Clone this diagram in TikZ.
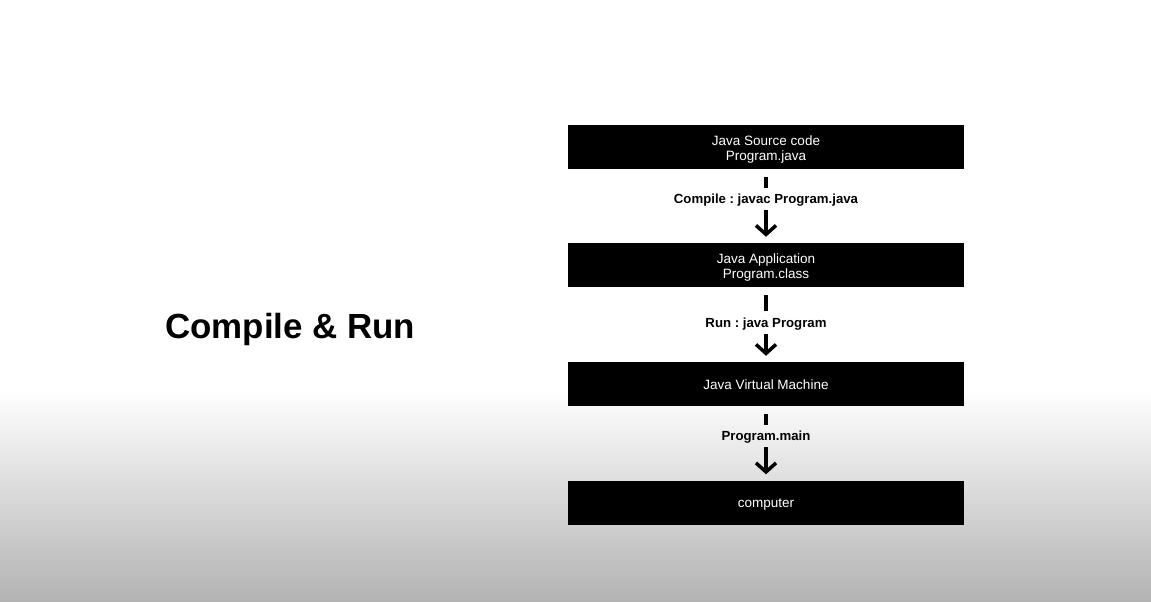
\documentclass[tikz,border=0pt]{standalone}
\usepackage{fontspec}
\setmainfont{Liberation Sans}
\usetikzlibrary{positioning,arrows.meta}
\frenchspacing

\begin{document}
\begin{tikzpicture}[x=1pt,y=-1pt,
    stage/.style={fill=black,text=white,minimum width=396pt,minimum height=44pt,
      inner sep=0pt,align=center,text height=10.6pt,text depth=0pt,
      font=\fontsize{13.5}{15}\selectfont},
    twolines/.style={text height=26pt},
    cmd/.style={minimum height=22pt,inner sep=0pt,text height=9pt,text depth=0pt,
      font=\bfseries\fontsize{13.2}{15}\selectfont},
    bar/.style={line width=3.5pt},
    flow/.style={line width=3.5pt,-{Straight Barb[length=9pt,width=20pt]}}]
  % background
  \useasboundingbox (0,0) rectangle (1151,602);
  \fill[white] (0,0) rectangle (1151,391);
  \shade[top color=white,bottom color=black!30] (0,390) rectangle (1151,602);

  \node[inner sep=0pt,anchor=base west,font=\bfseries\fontsize{34.9}{40}\selectfont] (title) at (165,338.5) {Compile \& Run};

  % stages
  \node[stage,twolines] (src) at (766,147) {Java Source code\\Program.java};
  \node[stage,twolines] (app) at (766,265) {Java Application\\Program.class};
  \node[stage] (jvm) at (766,384) {Java Virtual Machine};
  \node[stage] (pc) at (766,502.5) {computer};

  % steps
  \node[cmd] (compile) at (766,199) {Compile : javac Program.java};
  \node[cmd] (run) at (766,322.5) {Run : java Program};
  \node[cmd] (main) at (766,436) {Program.main};

  \draw[bar,shorten <=8pt] (src) -- (compile);
  \draw[flow,shorten >=6pt] (compile) -- (app);
  \draw[bar,shorten <=8pt] (app) -- (run);
  \draw[flow,shorten >=6pt] (run) -- (jvm);
  \draw[bar,shorten <=8pt] (jvm) -- (main);
  \draw[flow,shorten >=6pt] (main) -- (pc);
\end{tikzpicture}
\end{document}
